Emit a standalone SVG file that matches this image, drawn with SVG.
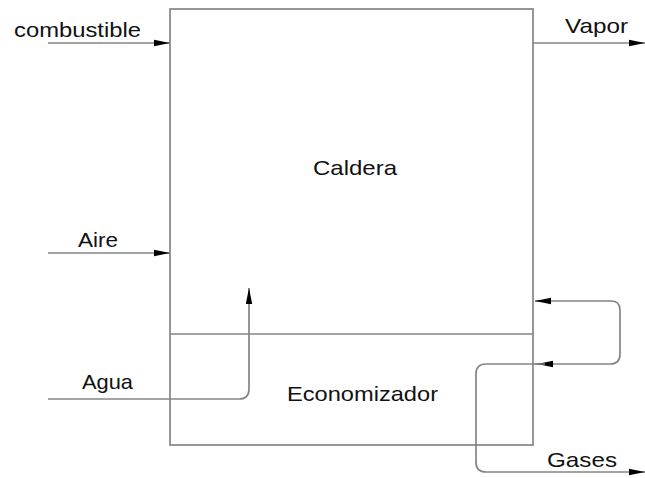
<svg xmlns="http://www.w3.org/2000/svg" width="645" height="478" viewBox="0 0 645 478">
<style>
.ln{fill:none;stroke:#858585;stroke-width:1.7}
.bx{fill:none;stroke:#858585;stroke-width:1.7}
.t{font-family:"Liberation Sans",Arial,sans-serif;font-size:21px;fill:#111}
</style>
<defs>
<marker id="ah" markerUnits="userSpaceOnUse" markerWidth="18" markerHeight="10" refX="16" refY="5" orient="auto">
<path d="M0,1.8 L16,5 L0,8.2 Z" fill="#000"/>
</marker>
</defs>
<rect width="645" height="478" fill="#fff"/>
<g id="caldera">
<rect class="bx" x="170" y="9" width="363" height="436"/>
<text class="t" x="313" y="175" textLength="84" lengthAdjust="spacingAndGlyphs">Caldera</text>
</g>
<g id="economizador">
<line class="bx" x1="170" y1="334" x2="533" y2="334"/>
<text class="t" x="287" y="401" textLength="151" lengthAdjust="spacingAndGlyphs">Economizador</text>
</g>
<g id="connectors">
<line class="ln" x1="48" y1="43" x2="170" y2="43" marker-end="url(#ah)"/>
<line class="ln" x1="48" y1="253" x2="170" y2="253" marker-end="url(#ah)"/>
<path class="ln" d="M48,399 H239 Q249,399 249,389 V288" marker-end="url(#ah)"/>
<line class="ln" x1="533" y1="43" x2="645" y2="43" marker-end="url(#ah)"/>
<path class="ln" d="M535,301 H611 Q620,301 620,310 V354 Q620,364 610,364 H535"/>
<line class="ln" x1="551" y1="301" x2="535" y2="301" marker-end="url(#ah)"/>
<line class="ln" x1="553" y1="364" x2="537" y2="364" marker-end="url(#ah)"/>
<path class="ln" d="M545,364 H486 Q476,364 476,374 V462 Q476,472 486,472 H645" marker-end="url(#ah)"/>
</g>
<g id="labels">
<text class="t" x="14" y="37" textLength="127" lengthAdjust="spacingAndGlyphs">combustible</text>
<text class="t" x="78" y="247" textLength="40" lengthAdjust="spacingAndGlyphs">Aire</text>
<text class="t" x="82" y="389" textLength="51" lengthAdjust="spacingAndGlyphs">Agua</text>
<text class="t" x="565" y="33" textLength="63" lengthAdjust="spacingAndGlyphs">Vapor</text>
<text class="t" x="547" y="467" textLength="70" lengthAdjust="spacingAndGlyphs">Gases</text>
</g>
</svg>
